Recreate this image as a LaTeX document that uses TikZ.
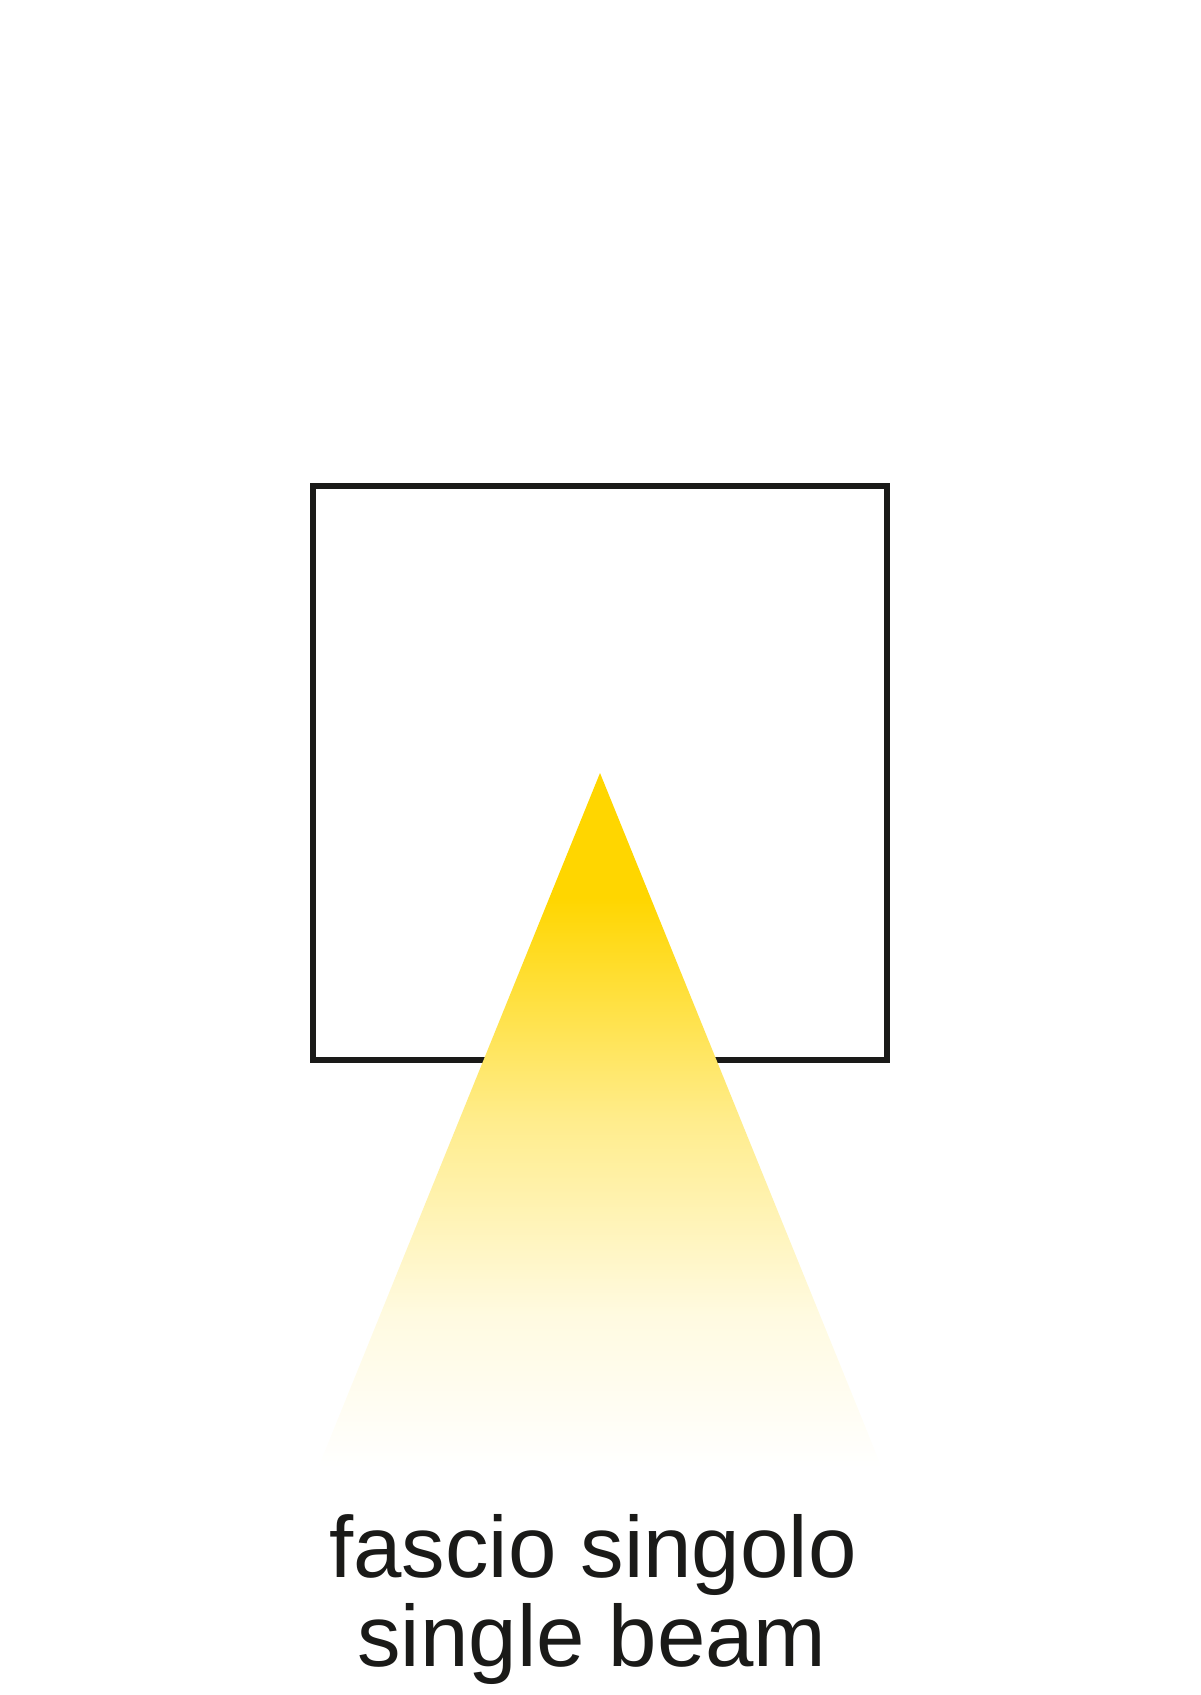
\documentclass[tikz,border=0pt]{standalone}
\usepackage{fontspec}
\setmainfont{Liberation Sans}
\usepackage{tikz}
\usetikzlibrary{positioning}
\definecolor{lampline}{RGB}{26,26,24}
\definecolor{beamgold}{RGB}{255,214,0}
\pgfdeclareverticalshading{beamfade}{100bp}{
  color(0bp)=(white); color(25bp)=(white);
  color(36bp)=(white!88!beamgold);
  color(50bp)=(white!55!beamgold);
  color(66bp)=(beamgold); color(100bp)=(beamgold)}

\begin{document}
\begin{tikzpicture}[x=1pt, y=-1pt]
    \useasboundingbox (0,0) rectangle (1200,1695);

    % The lamp outline
    \node[draw=lampline, line width=6pt, minimum size=574pt, inner sep=0pt] (lamp) at (600,773) {};

    % The beam
    \coordinate (apex) at (lamp.center);
    \coordinate (baseL) at (318,1468);
    \coordinate (baseR) at (882,1468);
    \shade[shading=beamfade] (apex) -- (baseL) -- (baseR) -- cycle;

    % Labels
    \node[anchor=base, text=lampline] (nameIT) at (593,1577) {\fontsize{87}{89}\selectfont fascio singolo};
    \node[anchor=base, text=lampline] (nameEN) at (592,1666) {\fontsize{87}{89}\selectfont single beam};
\end{tikzpicture}
\end{document}
